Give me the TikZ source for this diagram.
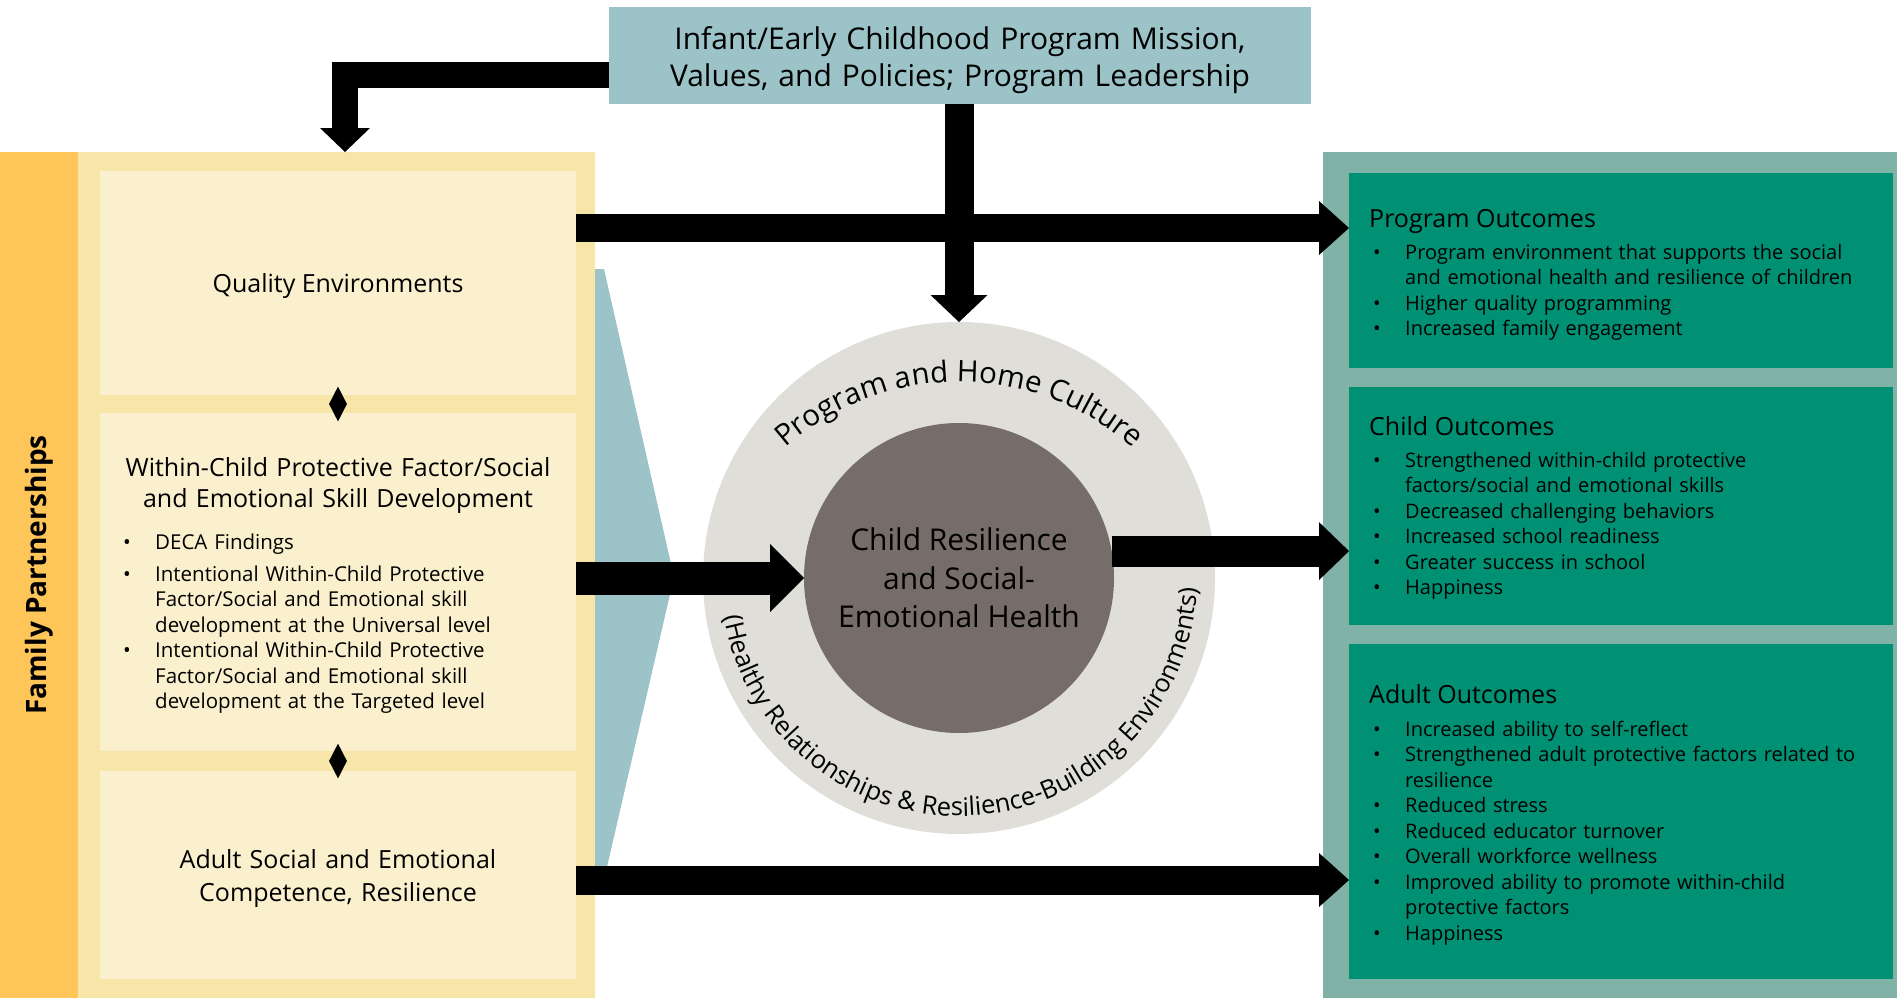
\documentclass[tikz,border=0pt]{standalone}
\usepackage{fontspec}
\setmainfont{Open Sans}
\usetikzlibrary{arrows.meta,decorations.text,calc,shapes.geometric}
\definecolor{tealc}{RGB}{156,196,200}
\definecolor{famorange}{RGB}{254,198,89}
\definecolor{paleY}{RGB}{248,229,168}
\definecolor{lightY}{RGB}{250,240,206}
\definecolor{ringgray}{RGB}{224,222,216}
\definecolor{coregray}{RGB}{118,109,104}
\definecolor{sagepanel}{RGB}{128,178,168}
\definecolor{outgreen}{RGB}{0,145,116}
\newcommand{\fsz}[1]{\fontsize{#1}{#1}\selectfont}
\newlength{\bulind}
\setlength{\bulind}{34pt}
\newcommand{\firstitem}[1]{\noindent\makebox[\bulind][l]{\kern2pt •}#1}
\newcommand{\bitem}[1]{\par\noindent\makebox[\bulind][l]{\kern2pt •}#1}
\newcommand{\citem}[1]{\par\noindent\hspace*{\bulind}#1}
\tikzset{
  box/.style={inner sep=0pt, outer sep=0pt, draw=none},
  fatarrow/.style n args={3}{line width=#1, line join=miter, draw=black,
    -{Triangle[width=#2, length=#3, line width=0pt]}},
  titleR/.style={anchor=base west, inner sep=0pt, font=\fsz{25}},
  itemsR/.style={anchor=base west, inner sep=0pt, text width=520pt, align=left,
    font=\fontsize{20}{25.5}\selectfont},
  itemsL/.style={anchor=base west, inner sep=0pt, text width=450pt, align=left,
    font=\fontsize{20.5}{25.5}\selectfont},
}
\begin{document}
\begin{tikzpicture}[x=1pt,y=1pt]
\useasboundingbox (0,0) rectangle (1897,-998);
% teal wedge behind left panel
\fill[tealc] (590,-269) -- (604,-269) -- (674,-577) -- (604,-880) -- (590,-880) -- cycle;
% panels
\node[box, fill=famorange, minimum width=78, minimum height=846, anchor=north west] (famstrip) at (0,-152) {};
\node[box, fill=paleY, minimum width=517, minimum height=846, anchor=north west] (panelL) at (78,-152) {};
\node[box, fill=sagepanel, minimum width=574, minimum height=846, anchor=north west] (panelR) at (1323,-152) {};
% left boxes
\node[box, fill=lightY, minimum width=476, minimum height=224] (quality) at (338,-283) {};
\node[box, fill=lightY, minimum width=476, minimum height=338] (within) at (338,-582) {};
\node[box, fill=lightY, minimum width=476, minimum height=208] (adultL) at (338,-875) {};
% outcome boxes
\node[box, fill=outgreen, minimum width=544, minimum height=195, anchor=north west] (progOut) at (1349,-173) {};
\node[box, fill=outgreen, minimum width=544, minimum height=238, anchor=north west] (childOut) at (1349,-387) {};
\node[box, fill=outgreen, minimum width=544, minimum height=335, anchor=north west] (adultOut) at (1349,-644) {};
% top box
\node[box, fill=tealc, minimum width=702, minimum height=97] (infant) at (960,-55.5) {};
% circles
\node[circle, box, fill=ringgray, minimum size=512] (ring) at (959,-578) {};
\node[circle, box, fill=coregray, minimum size=310, align=center, font=\fontsize{30}{38.5}\selectfont] (core) at (959,-578) {Child Resilience\\and Social-\\Emotional Health};
% circle texts
\coordinate (topc) at (959,-644);
\path[decorate, decoration={text along path, text align=center, text={|\fsz{29.5}|Program and Home Culture}}]
  ($(topc)+(150:262)$) arc[start angle=150, end angle=30, radius=262];
\path[decorate, decoration={text along path, text align=center, text={|\fsz{25.5}|(Healthy Relationships {\&} Resilience-Building Environments)}}]
  ($(ring.center)+(180:238)$) arc[start angle=180, end angle=367, radius=238];
% coordinates for arrows
\coordinate (qa) at ([yshift=55pt]quality.east);
\coordinate (aa) at ([yshift=-5pt]adultL.east);
% arrows
\draw[fatarrow={26pt}{50pt}{24pt}] ([yshift=-19.5pt]infant.west) -| ([xshift=8.5pt]panelL.north);
\draw[fatarrow={28pt}{54pt}{30pt}] (qa) -- (progOut.west |- qa);
\draw[fatarrow={33pt}{68pt}{34pt}] (within.east |- core.west) -- (core.west);
\draw[fatarrow={31pt}{58pt}{30pt}] (core.10.8) -- (childOut.west |- core.10.8);
\draw[fatarrow={29pt}{54pt}{30pt}] (aa) -- (adultOut.west |- aa);
\draw[fatarrow={29pt}{57pt}{27pt}] (infant.south -| ring.north) -- (ring.north);
% diamonds
\node[diamond, fill=black, minimum width=18, minimum height=35, inner sep=0pt] (d1) at ($(quality.south)!0.5!(within.north)$) {};
\node[diamond, fill=black, minimum width=18, minimum height=35, inner sep=0pt] (d2) at ($(within.south)!0.5!(adultL.north)$) {};
% labels of boxes
\node[anchor=base, text width=700pt, align=center, inner sep=0pt, font=\fontsize{30}{37}\selectfont] (infantT) at (960,-49) {Infant/Early Childhood Program Mission,\\Values, and Policies; Program Leadership};
\node[anchor=base, inner sep=0pt, font=\fsz{25}] (qualityT) at (338,-292.5) {Quality Environments};
\node[anchor=base, text width=476pt, align=center, inner sep=0pt, font=\fontsize{25}{33}\selectfont] (adultLT) at (338,-868) {Adult Social and Emotional\\Competence, Resilience};
% family label
\node[rotate=90, inner sep=0pt, font=\bfseries\fsz{28}] (famT) at (39,-575) {Family Partnerships};
% within text
\node[anchor=base, text width=476pt, align=center, inner sep=0pt, font=\fontsize{25}{31}\selectfont] (withinT) at (338,-476) {Within-Child Protective Factor/Social\\and Emotional Skill Development};
\node[itemsL] (withinL) at (121,-549) {\firstitem{DECA Findings}\par\vspace{6.5pt}%
\bitem{Intentional Within-Child Protective}\citem{Factor/Social and Emotional skill}\citem{development at the Universal level}%
\bitem{Intentional Within-Child Protective}\citem{Factor/Social and Emotional skill}\citem{development at the Targeted level}};
% outcomes text
\node[titleR] (progT) at (1369,-227) {Program Outcomes};
\node[itemsR] (progL) at (1371,-259) {\firstitem{Program environment that supports the social}\citem{and emotional health and resilience of children}%
\bitem{Higher quality programming}\bitem{Increased family engagement}};
\node[titleR] (childT) at (1369,-435) {Child Outcomes};
\node[itemsR] (childL) at (1371,-467) {\firstitem{Strengthened within-child protective}\citem{factors/social and emotional skills}%
\bitem{Decreased challenging behaviors}\bitem{Increased school readiness}\bitem{Greater success in school}\bitem{Happiness}};
\node[titleR] (adultT) at (1369,-703) {Adult Outcomes};
\node[itemsR] (adultLst) at (1371,-736) {\firstitem{Increased ability to self-reflect}\bitem{Strengthened adult protective factors related to}\citem{resilience}%
\bitem{Reduced stress}\bitem{Reduced educator turnover}\bitem{Overall workforce wellness}%
\bitem{Improved ability to promote within-child}\citem{protective factors}\bitem{Happiness}};
\end{tikzpicture}
\end{document}
